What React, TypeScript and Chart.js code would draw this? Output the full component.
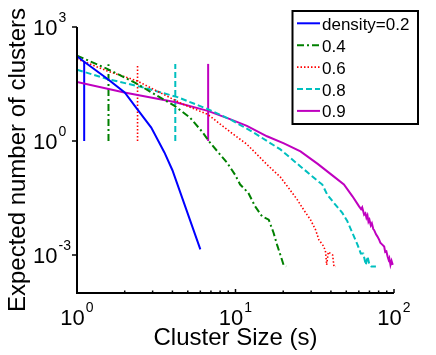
import React, { useEffect, useRef } from "react";
import { Chart, registerables } from "chart.js";

Chart.register(...registerables);

// ---- data ----
const seriesLabels = ["density=0.2", "0.4", "0.6", "0.8", "0.9"];
const seriesColors = ["#0000ff", "#008000", "#ff0000", "#00bfbf", "#bf00bf"];
const seriesDash: number[][] = [[], [7, 3, 2, 3], [1.5, 2], [6, 3], []];
const seriesWidth = [2, 2, 1.6, 2, 2];

const sizes02 = [1, 1.11, 1.56, 2, 2.36, 2.94, 3.56, 4, 6];
const counts02 = [170, 122, 43, 19, 7.6, 2.26, 0.5, 0.17, 0.0014];

const sizes04 = [1, 1.55, 2.3, 4.13, 5.14, 6.13, 6.89, 8.83, 9.93, 10.7, 12.05, 13.3, 14.7, 16.2, 17.4, 18.3, 19.2, 20.1, 20.9];
const counts04 = [177, 79, 35, 8.4, 4.2, 1.8, 0.92, 0.27, 0.13, 0.0715, 0.043, 0.019, 0.0104, 0.0085, 0.0038, 0.00185, 0.001, 0.00055, 0.0005];

const sizes06 = [1, 1.55, 2.4, 4.64, 6.69, 9.23, 11.8, 15.8, 19.2, 21.6, 24.5, 26.9, 29.7, 32, 33.6, 36.1, 37, 37.6, 38.5, 41, 41.8, 43];
const counts06 = [145, 70, 38, 9.35, 5.0, 1.75, 0.82, 0.24, 0.112, 0.0585, 0.0287, 0.0156, 0.0085, 0.0046, 0.0025, 0.00167, 0.0012, 0.00055, 0.0012, 0.001, 0.0005, 0.0005];

const sizes08 = [1, 1.55, 2.55, 4.3, 6.69, 9.23, 12.9, 15.8, 19.2, 25.7, 32.9, 35.3, 37.9, 41.8, 47.2, 50.8, 54.7, 58.9, 61.7, 64, 66.4, 68.1, 69.7, 72, 76.9];
const counts08 = [75, 43, 26.4, 14.3, 6.9, 3.75, 1.7, 1.0, 0.6, 0.214, 0.09, 0.0715, 0.039, 0.0234, 0.0128, 0.0077, 0.0038, 0.00185, 0.0011, 0.0011, 0.00055, 0.00091, 0.0006, 0.0005, 0.0005];

const sizes09 = [1, 1.99, 4.13, 6.69, 9.23, 11.8, 15.8, 20.2, 25.7, 33, 41.6, 48.3, 54.7, 60.2, 62, 63, 64.8, 66, 67, 68, 69, 70, 71.4, 72.5, 74, 75, 77, 78.5, 80.7, 82, 84, 86.7, 88, 89.5, 91.2, 92.5, 93.4, 95, 96.5, 98.2];
const counts09 = [36, 19, 10.6, 6.2, 3.75, 2.5, 1.33, 0.87, 0.53, 0.25, 0.117, 0.0715, 0.035, 0.019, 0.016, 0.018, 0.0115, 0.0125, 0.0095, 0.011, 0.0075, 0.0085, 0.006, 0.0068, 0.0048, 0.0045, 0.0035, 0.0031, 0.0025, 0.0021, 0.0019, 0.00167, 0.0012, 0.00125, 0.0009, 0.00075, 0.00083, 0.00055, 0.0007, 0.00055];

// vertical marker lines (one per density)
const markerSize = [1.11, 1.58, 2.41, 4.17, 6.72];
const markerTop = [120, 105, 97, 107, 107];
const markerBottom = 1;

const xTickValues = [1, 10, 100];
const xTickExponents = ["0", "1", "2"];
const yTickValues = [1000, 1, 0.001];
const yTickExponents = ["3", "0", "-3"];

const xTitle = "Cluster Size (s)";
const yTitle = "Expected number of clusters";

const allSizes = [sizes02, sizes04, sizes06, sizes08, sizes09];
const allCounts = [counts02, counts04, counts06, counts08, counts09];

const FONT = '"Liberation Sans", Arial, Helvetica, sans-serif';

const decorPlugin = {
  id: "decor",
  afterDraw(chart: any) {
    const ctx: CanvasRenderingContext2D = chart.ctx;
    const xs = chart.scales.x;
    const ys = chart.scales.y;
    const { left, right, top, bottom } = chart.chartArea;
    ctx.save();
    ctx.strokeStyle = "#000";
    ctx.fillStyle = "#000";
    ctx.lineWidth = 2;
    ctx.setLineDash([]);
    // axes
    ctx.beginPath();
    ctx.moveTo(left, top);
    ctx.lineTo(left, bottom);
    ctx.lineTo(right, bottom);
    ctx.stroke();
    // x ticks (inward)
    ctx.lineWidth = 1.5;
    for (let d = 0; d < 2; d++) {
      for (let m = 1; m <= 9; m++) {
        const v = m * Math.pow(10, d);
        const px = xs.getPixelForValue(v);
        const len = m === 1 ? 4 : 2.5;
        ctx.beginPath();
        ctx.moveTo(px, bottom);
        ctx.lineTo(px, bottom - len);
        ctx.stroke();
      }
    }
    {
      const px = xs.getPixelForValue(100);
      ctx.beginPath();
      ctx.moveTo(px, bottom);
      ctx.lineTo(px, bottom - 4);
      ctx.stroke();
    }
    // y ticks (outward)
    yTickValues.forEach((v) => {
      const py = ys.getPixelForValue(v);
      ctx.beginPath();
      ctx.moveTo(left, py);
      ctx.lineTo(left - 5, py);
      ctx.stroke();
    });
    // x tick labels
    xTickValues.forEach((v, i) => {
      const px = xs.getPixelForValue(v);
      ctx.font = `22px ${FONT}`;
      const wBase = ctx.measureText("10").width;
      ctx.font = `14px ${FONT}`;
      const wExp = ctx.measureText(xTickExponents[i]).width;
      const total = wBase + 1 + wExp;
      const x0 = px - total / 2;
      ctx.textAlign = "left";
      ctx.textBaseline = "alphabetic";
      ctx.font = `22px ${FONT}`;
      ctx.fillText("10", x0, 325);
      ctx.font = `14px ${FONT}`;
      ctx.fillText(xTickExponents[i], x0 + wBase + 1, 312);
    });
    // y tick labels
    yTickValues.forEach((v, i) => {
      const py = ys.getPixelForValue(v);
      ctx.textBaseline = "alphabetic";
      ctx.font = `22px ${FONT}`;
      ctx.textAlign = "right";
      ctx.fillText("10", 57.5, py + 8);
      ctx.font = `14px ${FONT}`;
      ctx.textAlign = "left";
      ctx.fillText(yTickExponents[i], 58.5, py - 5);
    });
    // axis titles
    ctx.font = `24px ${FONT}`;
    ctx.textAlign = "center";
    ctx.textBaseline = "alphabetic";
    ctx.fillText(xTitle, (left + right) / 2, 345);
    ctx.save();
    ctx.translate(25, (top + bottom) / 2);
    ctx.rotate(-Math.PI / 2);
    ctx.fillText(yTitle, 0, 0);
    ctx.restore();
    // legend
    const bx = 292.5, by = 11, bw = 125.5, bh = 113;
    ctx.fillStyle = "#fff";
    ctx.fillRect(bx, by, bw, bh);
    ctx.strokeStyle = "#000";
    ctx.lineWidth = 2;
    ctx.strokeRect(bx, by, bw, bh);
    seriesLabels.forEach((lab, i) => {
      const y = 23.3 + i * 21.9;
      ctx.strokeStyle = seriesColors[i];
      ctx.lineWidth = seriesWidth[i];
      ctx.setLineDash(seriesDash[i]);
      ctx.beginPath();
      ctx.moveTo(297, y);
      ctx.lineTo(320, y);
      ctx.stroke();
      ctx.setLineDash([]);
      ctx.fillStyle = "#000";
      ctx.font = `17px ${FONT}`;
      ctx.textAlign = "left";
      ctx.textBaseline = "alphabetic";
      ctx.fillText(lab, 322, y + 6.5);
    });
    ctx.restore();
  },
};

export default function App() {
  const canvasRef = useRef<HTMLCanvasElement | null>(null);

  useEffect(() => {
    if (!canvasRef.current) return;
    const datasets: any[] = [];
    allSizes.forEach((sz, i) => {
      datasets.push({
        label: seriesLabels[i],
        data: sz.map((s, k) => ({ x: s, y: allCounts[i][k] })),
        borderColor: seriesColors[i],
        borderWidth: seriesWidth[i],
        borderDash: seriesDash[i],
        pointRadius: 0,
        fill: false,
        tension: 0,
      });
    });
    markerSize.forEach((m, i) => {
      datasets.push({
        label: seriesLabels[i] + " marker",
        data: [
          { x: m, y: markerBottom },
          { x: m, y: markerTop[i] },
        ],
        borderColor: seriesColors[i],
        borderWidth: seriesWidth[i],
        borderDash: seriesDash[i],
        pointRadius: 0,
        fill: false,
      });
    });
    const chart = new Chart(canvasRef.current, {
      type: "line",
      data: { datasets },
      options: {
        responsive: false,
        animation: false,
        devicePixelRatio: 1,
        layout: { padding: { left: 77, top: 27, right: 42, bottom: 62 } },
        plugins: { legend: { display: false }, tooltip: { enabled: false } },
        scales: {
          x: { type: "logarithmic", min: 1, max: 100, display: false },
          y: { type: "logarithmic", min: 1e-4, max: 1e3, display: false },
        },
        elements: { point: { radius: 0 }, line: { tension: 0 } },
      },
      plugins: [decorPlugin],
    } as any);
    return () => chart.destroy();
  }, []);

  return (
    <div style={{ position: "absolute", left: 0, top: 0, width: 436, height: 355, background: "#fff" }}>
      <canvas ref={canvasRef} width={436} height={355} style={{ display: "block" }} />
    </div>
  );
}
